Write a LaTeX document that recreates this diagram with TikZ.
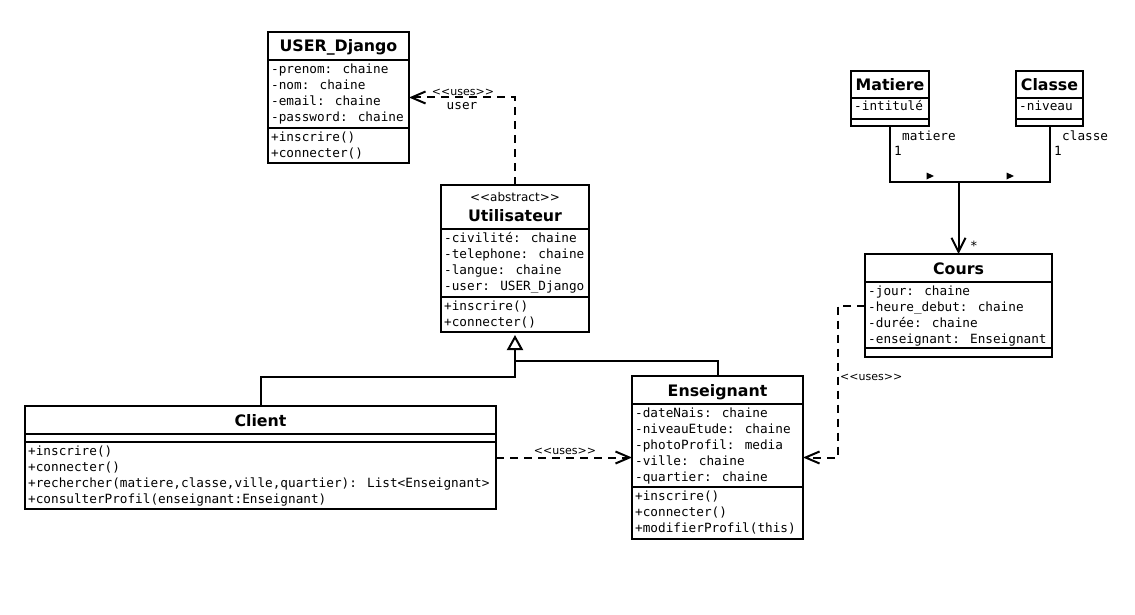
\documentclass[tikz,border=0pt]{standalone}
\usepackage{fontspec}
\setmainfont{DejaVu Sans}
\newfontfamily\monof{DejaVu Sans Mono}
\usetikzlibrary{arrows.meta,fit}
\newcommand\ltlt{<\kern0pt<}
\newcommand\gtgt{>\kern0pt>}
\newcommand\umlbox[5]{\node[box, fit={(#2,#3) (#4,#5)}] (#1) {};}
\newcommand\umllines[4]{\foreach \t [count=\i] in {#4} {\node[mono] (#1\i) at (#2,{#3+16*\i-16}) {\t};}}
\tikzset{
  box/.style={draw, line width=2pt, inner sep=0pt, outer sep=0pt},
  sep/.style={line width=2pt},
  mono/.style={font=\monof\fontsize{12.7}{16}\selectfont, inner sep=0pt, anchor=base west},
  monolbl/.style={font=\monof\fontsize{12.7}{16}\selectfont, inner sep=0pt},
  titletxt/.style={font=\bfseries\fontsize{15.8}{18}\selectfont, inner sep=0pt, anchor=base},
  stereo/.style={font=\fontsize{12}{14}\selectfont, inner sep=0pt, anchor=base},
  lbl/.style={font=\fontsize{11}{13}\selectfont, inner sep=0pt},
  conn/.style={line width=2pt},
  dep/.style={conn, dash pattern=on 8pt off 6pt, -{Straight Barb[length=14pt,width=12pt,line width=2pt]}},
  assoc/.style={conn, -{Straight Barb[length=14pt,width=14pt,line width=2pt]}},
  inh/.style={conn, shorten >=3pt, -{Triangle[open, length=15pt, width=16pt, fill=white, line width=2pt]}},
}
\begin{document}
\begin{tikzpicture}[x=1pt,y=-1pt]
\useasboundingbox (0,0) rectangle (1135,615);

% USER_Django
\umlbox{ud}{268}{32}{409}{163}
\draw[sep] (268,60) -- (409,60) (268,128) -- (409,128);
\node[titletxt] (ud-t) at (338.5,52) {USER\_Django};
\umllines{ud-a}{271}{73.5}{-prenom: chaine,-nom: chaine,-email: chaine,-password: chaine}
\umllines{ud-m}{271}{141.5}{+inscrire(),+connecter()}

% Utilisateur
\umlbox{uti}{441}{185}{589}{332}
\draw[sep] (441,229) -- (589,229) (441,297) -- (589,297);
\node[stereo] (uti-s) at (515,201) {\ltlt abstract\gtgt};
\node[titletxt] (uti-t) at (515,221) {Utilisateur};
\umllines{uti-a}{444}{242.5}{-civilité: chaine,-telephone: chaine,-langue: chaine,-user: USER\_Django}
\umllines{uti-m}{444}{310.5}{+inscrire(),+connecter()}

% Client
\umlbox{cli}{25}{406}{496}{509}
\draw[sep] (25,434) -- (496,434) (25,442) -- (496,442);
\node[titletxt] (cli-t) at (260.5,426) {Client};
\umllines{cli-m}{28}{455.5}{+inscrire(),+connecter(),{+rechercher(matiere,classe,ville,quartier): List<Enseignant>},+consulterProfil(enseignant:Enseignant)}

% Enseignant
\umlbox{ens}{632}{376}{803}{539}
\draw[sep] (632,404) -- (803,404) (632,487) -- (803,487);
\node[titletxt] (ens-t) at (717.5,396) {Enseignant};
\umllines{ens-a}{635}{417.5}{-dateNais: chaine,-niveauEtude: chaine,-photoProfil: media,-ville: chaine,-quartier: chaine}
\umllines{ens-m}{635}{500.5}{+inscrire(),+connecter(),+modifierProfil(this)}

% Cours
\umlbox{cou}{865}{254}{1052}{357}
\draw[sep] (865,282) -- (1052,282) (865,348) -- (1052,348);
\node[titletxt] (cou-t) at (958.5,274) {Cours};
\umllines{cou-a}{868}{295.5}{-jour: chaine,-heure\_debut: chaine,-durée: chaine,-enseignant: Enseignant}

% Matiere
\umlbox{mat}{851}{71}{929}{126}
\draw[sep] (851,98) -- (929,98) (851,119) -- (929,119);
\node[titletxt] (mat-t) at (890,91) {Matiere};
\umllines{mat-a}{854}{111}{-intitulé}

% Classe
\umlbox{cla}{1016}{71}{1083}{126}
\draw[sep] (1016,98) -- (1083,98) (1016,119) -- (1083,119);
\node[titletxt] (cla-t) at (1049.5,91) {Classe};
\umllines{cla-a}{1019}{111}{-niveau}

% helper coordinates
\coordinate (yg1) at (0,377);
\coordinate (yg2) at (0,361);
\coordinate (ya) at (0,182);
\coordinate (xc) at (838,0);

% Utilisateur uses USER_Django
\draw[dep] (uti.north) |- (ud.east);
\node[lbl] (l-uses1) at (463,92) {\ltlt uses\gtgt};
\node[monolbl] (l-user) at (462,106) {user};

% generalisation
\draw[inh] (cli.north) |- (uti.south |- yg1) -- (uti.south);
\draw[conn] (ens.north) |- (uti.south |- yg2);

% Client uses Enseignant
\draw[dep] (cli.east) -- (ens.west);
\node[lbl] (l-uses2) at (565,451) {\ltlt uses\gtgt};

% Cours uses Enseignant
\draw[dep] (cou.west) -- (cou.west -| xc) |- (ens.east);
\node[lbl, anchor=west] (l-uses3) at (840,377.5) {\ltlt uses\gtgt};

% association Matiere/Classe -> Cours
\coordinate (aj) at (cou.north |- ya);
\draw[conn] (mat.south) |- (cla.south |- ya) -- (cla.south);
\draw[assoc] (aj) -- (cou.north);
\fill (926.5,172.5) -- (934,176) -- (926.5,179.5) -- cycle;
\fill (1006.5,172.5) -- (1014,176) -- (1006.5,179.5) -- cycle;
\node[monolbl, anchor=west] (l-mat) at (902,136) {matiere};
\node[monolbl, anchor=west] (l-mat1) at (894,151) {1};
\node[monolbl, anchor=west] (l-cla) at (1062,136) {classe};
\node[monolbl, anchor=west] (l-cla1) at (1054,151) {1};
\node[monolbl] (l-star) at (974,245.5) {*};
\end{tikzpicture}
\end{document}
